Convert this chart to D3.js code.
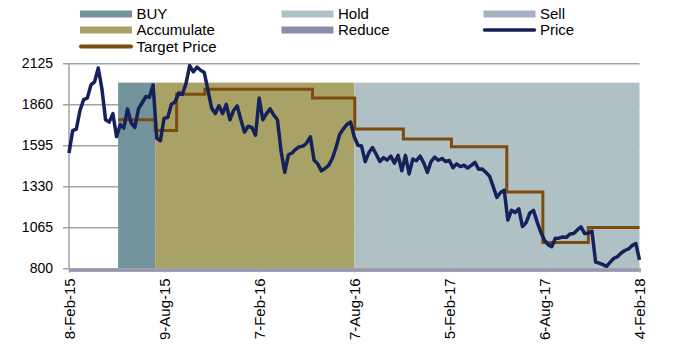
<!DOCTYPE html>
<html><head><meta charset="utf-8">
<script src="https://cdn.jsdelivr.net/npm/d3@7"></script>
<style>body{margin:0;background:#fff}svg{display:block}text{font-family:"Liberation Sans",Arial,sans-serif;fill:#000}</style>
</head><body><svg id="c" width="697" height="349"></svg>
<script>
// ---- data ----
const xTickLabels = ["8-Feb-15","9-Aug-15","7-Feb-16","7-Aug-16","5-Feb-17","6-Aug-17","4-Feb-18"];
const yTicks = [800,1065,1330,1595,1860,2125];
const priceStart = "8-Feb-15"; // weekly closes
const priceValues = [1545,1690,1700,1820,1890,1900,1985,2005,2095,1960,
 1760,1745,1800,1650,1728,1707,1830,1740,1710,1830,
 1870,1910,1905,1985,1640,1625,1770,1775,1860,1875,
 1933,1925,1995,2110,2070,2100,2080,2065,1950,1836,
 1800,1850,1800,1860,1760,1820,1850,1760,1680,1718,
 1710,1660,1900,1760,1800,1830,1790,1760,1556,1420,
 1534,1545,1570,1585,1590,1610,1650,1500,1475,1430,
 1445,1465,1510,1580,1665,1700,1730,1745,1650,1595,
 1590,1489,1548,1580,1537,1490,1515,1500,1525,1480,
 1530,1430,1530,1410,1506,1495,1525,1482,1420,1490,
 1518,1498,1510,1490,1497,1450,1475,1457,1466,1448,
 1465,1485,1440,1442,1420,1395,1328,1258,1290,1305,
 1112,1175,1160,1185,1070,1095,1156,1175,1100,1033,
 983,953,940,994,995,1003,1000,1022,1025,1048,
 1068,1024,1028,1040,840,833,824,813,840,865,
 876,899,915,925,948,960,854];
const targetDates = ["13-May-15","23-Jul-15","2-Sep-15","26-Oct-15","19-May-16","8-Aug-16","9-Nov-16","9-Feb-17","26-May-17","3-Aug-17","29-Oct-17","4-Feb-18"];
const targetValues = [1760,1690,1925,1957,1900,1700,1635,1585,1293,966,1063,1063];
const ratingStarts = ["13-May-15","23-Jul-15","7-Aug-16"];
const ratingEnds   = ["23-Jul-15","7-Aug-16","4-Feb-18"];
const ratingNames  = ["BUY","Accumulate","Hold"];
const ratingLevel = 2000;
const legendNames = ["BUY","Hold","Sell","Accumulate","Reduce","Price","Target Price"];

// ---- styles ----
const colors = {"BUY":"#72939a","Hold":"#b0c1c5","Sell":"#a8afc3","Accumulate":"#a9a266","Reduce":"#8a8cab","Price":"#14215a","Target Price":"#7e4b0e"};

const parse = d3.utcParse("%d-%b-%y");
const svg = d3.select("#c");
const x = d3.scaleUtc().domain([parse(xTickLabels[0]), parse(xTickLabels[xTickLabels.length-1])]).range([69, 639.5]);
const y = d3.scaleLinear().domain([800,2125]).range([268.3, 63.3]);

// gridlines
const yAxis = d3.axisLeft(y).tickValues(yTicks).tickSize(-(639.5-69)).tickFormat(d=>d).tickPadding(10);
const gy = svg.append("g").attr("transform","translate(69,0)").call(yAxis);
gy.select(".domain").remove();
gy.selectAll(".tick line").attr("stroke","#a3a3a3").attr("stroke-width",1.5).attr("x1",-6);
gy.selectAll(".tick text").attr("x",-16).style("font-size","14px").style("font-family","Liberation Sans, Arial, sans-serif");

// rating bands
svg.append("g").selectAll("rect").data(ratingNames).join("rect")
  .attr("x",(d,i)=>x(parse(ratingStarts[i])))
  .attr("width",(d,i)=>x(parse(ratingEnds[i]))-x(parse(ratingStarts[i])))
  .attr("y",y(ratingLevel)).attr("height",y(800)-y(ratingLevel))
  .attr("fill",d=>colors[d]);

// left axis line
svg.append("line").attr("x1",69).attr("x2",69).attr("y1",y(2125)).attr("y2",y(800)).attr("stroke","#a3a3a3").attr("stroke-width",1.5);

// target price step line
const tData = targetDates.map((d,i)=>({date:parse(d),v:targetValues[i]}));
svg.append("path").datum(tData)
  .attr("d",d3.line().x(d=>x(d.date)).y(d=>y(d.v)).curve(d3.curveStepAfter))
  .attr("fill","none").attr("stroke",colors["Target Price"]).attr("stroke-width",3);

// price line
const p0 = parse(priceStart);
const pData = priceValues.map((v,i)=>({date:d3.utcDay.offset(p0,i*7),v}));
svg.append("path").datum(pData)
  .attr("d",d3.line().x(d=>x(d.date)).y(d=>y(d.v)))
  .attr("fill","none").attr("stroke",colors["Price"]).attr("stroke-width",3.5).attr("stroke-linejoin","round");

// x axis
svg.append("rect").attr("x",69).attr("width",639.5-69).attr("y",y(800)+0.5).attr("height",3).attr("fill","#8f90b2");
const xAxis = d3.axisBottom(x).tickValues(xTickLabels.map(parse)).tickSize(4).tickFormat((d,i)=>xTickLabels[i]);
const gx = svg.append("g").attr("transform",`translate(0,${y(800)})`).call(xAxis);
gx.select(".domain").attr("stroke","#a3a3a3").attr("stroke-width",1.5);
gx.selectAll(".tick line").attr("stroke","#a3a3a3").attr("stroke-width",1.5);
gx.selectAll(".tick text").attr("transform","rotate(-90)").attr("text-anchor","end")
  .attr("x",-10).attr("y",0).attr("dy","0.35em").style("font-size","15px").style("font-family","Liberation Sans, Arial, sans-serif");

// legend
const legX = [80,281.5,483.5], legY = [14,30,46.5];
const lg = svg.append("g");
legendNames.forEach((n,i)=>{
  const cx = legX[i%3], cy = legY[Math.floor(i/3)];
  if(n==="Price"||n==="Target Price"){
    lg.append("line").attr("x1",cx+1).attr("x2",cx+51).attr("y1",cy).attr("y2",cy)
      .attr("stroke",colors[n]).attr("stroke-width",n==="Price"?3.5:4).attr("stroke-linecap","round");
  } else {
    lg.append("rect").attr("x",cx).attr("y",cy-3.5).attr("width",52).attr("height",7).attr("fill",colors[n]);
  }
  lg.append("text").attr("x",cx+56.5).attr("y",cy).attr("dy","0.36em").style("font-size","15px").text(n);
});
</script></body></html>
